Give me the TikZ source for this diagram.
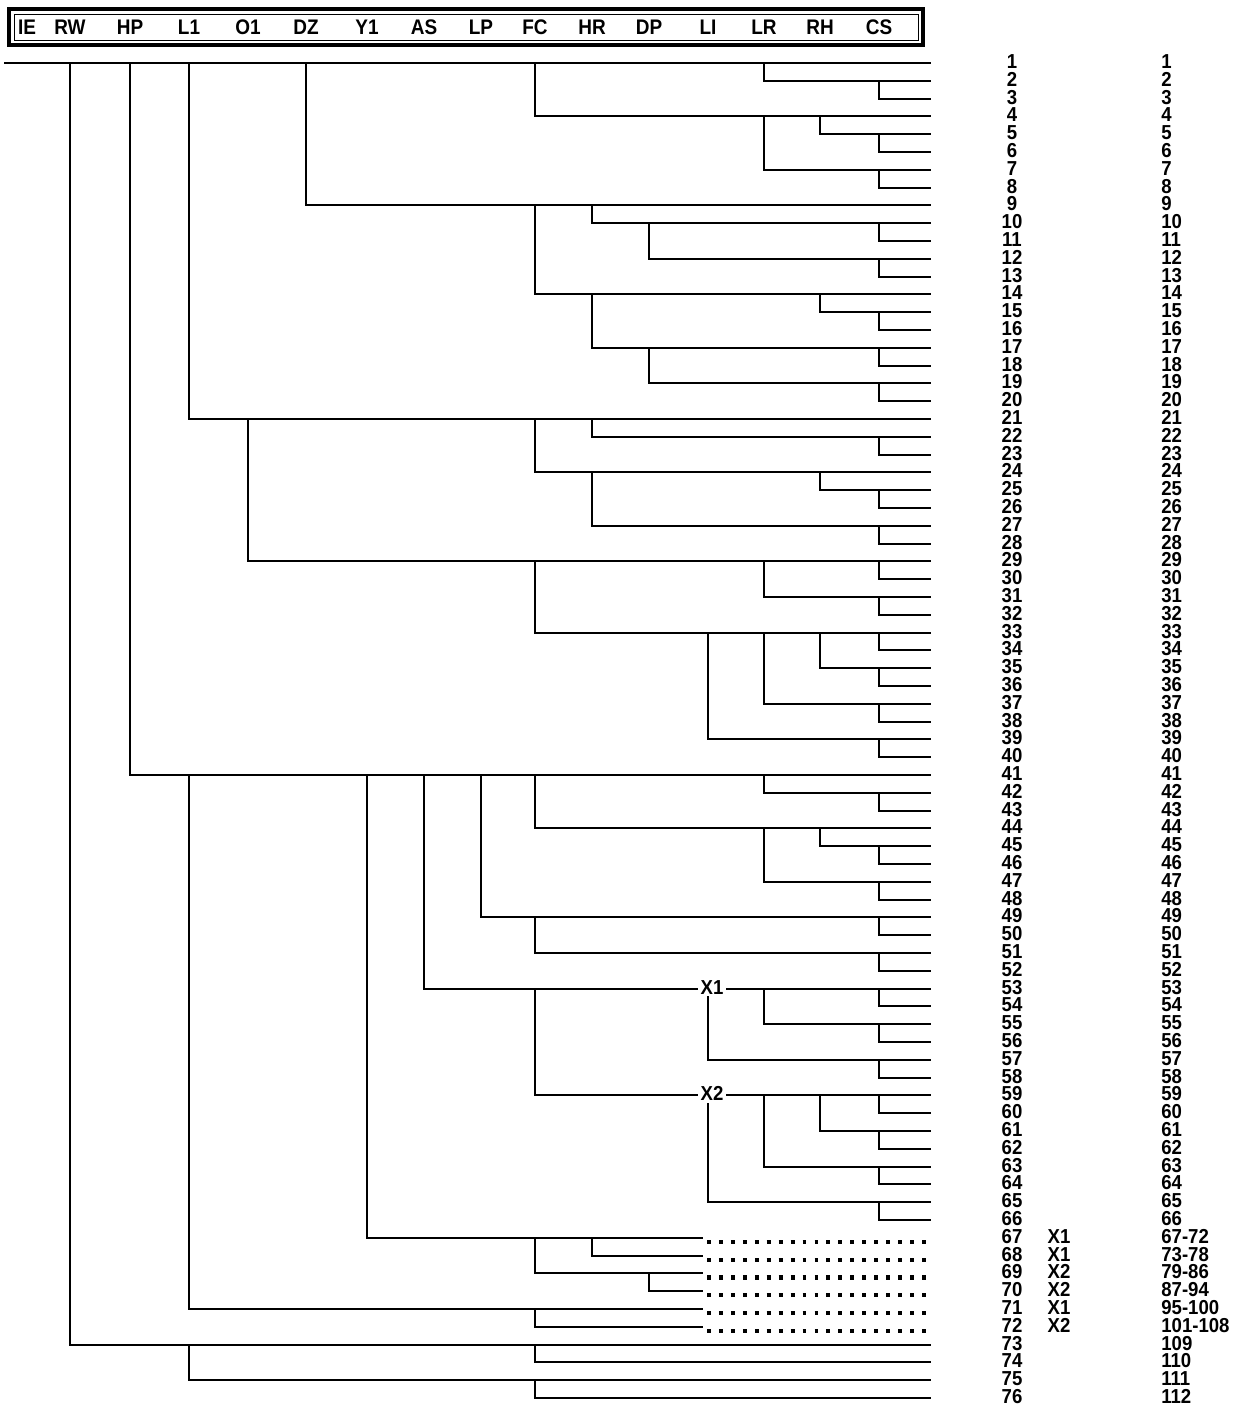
\documentclass[tikz,border=0pt]{standalone}
\usepackage{fontspec}
\setmainfont{Liberation Sans}
\usepackage{tikz}
\usetikzlibrary{calc}
\tikzset{
  treeline/.style={line width=1.2pt,line cap=rect,line join=miter},
  dotline/.style={line width=2.4pt,dash pattern=on 2.2pt off 4.6pt},
  headlab/.style={font=\fontsize{12}{13}\selectfont\bfseries,inner sep=0pt,xscale=0.9},
  numlab/.style={font=\fontsize{11.5}{12}\selectfont\bfseries,inner sep=0pt,
                 text height=8.2pt,text depth=0pt,yshift=1pt,xscale=0.92},
  xlab/.style={numlab,fill=white,inner xsep=1.5pt,inner ysep=1pt}
}

\begin{document}
\begin{tikzpicture}[x=0.02cm,y=-0.02cm]
  \def\ytop{63}                 % first row
  \def\dy{17.8}                 % row spacing
  \def\xend{930}                % end of leaf lines
  \def\xcut{702}                % end of solid part, rows 67-72
  \useasboundingbox (0,0) rectangle (1254,1407);

  % HEADER
  \draw[line width=2.4pt] (9,9) rectangle (923,45);
  \draw[line width=0.5pt] (14,14) rectangle (918,40);
  \foreach \n/\x in {IE/27,RW/70,HP/130,L1/189,O1/248,DZ/306,Y1/367,AS/424,
                     LP/481,FC/535,HR/592,DP/649,LI/708,LR/764,RH/820,CS/879}
    \node[headlab] (\n) at (\x,27) {\n};

  % ROWS
  \foreach \i in {1,...,76}
    \coordinate (r\i) at (\xend,{\ytop+(\i-1)*\dy});
  \coordinate (start) at (5,\ytop);
  \coordinate (cut) at (\xcut,0);
  \coordinate (dot) at (707,0);
  \coordinate (cA) at (1012,0);
  \coordinate (cB) at (1059,0);
  \coordinate (cC) at (1161,0);

  % TREE
  \draw[treeline] (start) -- (r1);
  \foreach \c/\a/\b in {RW/1/73,HP/1/41,L1/1/21,DZ/1/9,FC/1/4,LR/1/2,CS/2/3,
      LR/4/7,RH/4/5,CS/5/6,CS/7/8,
      FC/9/14,HR/9/10,DP/10/12,CS/10/11,CS/12/13,HR/14/17,RH/14/15,CS/15/16,
      DP/17/19,CS/17/18,CS/19/20,
      O1/21/29,FC/21/24,HR/21/22,CS/22/23,HR/24/27,RH/24/25,CS/25/26,CS/27/28,
      FC/29/33,LR/29/31,CS/29/30,CS/31/32,LI/33/39,LR/33/37,RH/33/35,CS/33/34,
      CS/35/36,CS/37/38,CS/39/40,
      AS/41/53,LP/41/49,FC/41/44,LR/41/42,CS/42/43,LR/44/47,RH/44/45,CS/45/46,
      CS/47/48,FC/49/51,CS/49/50,CS/51/52,
      FC/53/59,LI/53/57,LR/53/55,CS/53/54,CS/55/56,CS/57/58,
      LI/59/65,LR/59/63,RH/59/61,CS/59/60,CS/61/62,CS/63/64,CS/65/66,
      L1/73/75,FC/73/74,FC/75/76}
    \draw[treeline] (\c |- r\a) |- (r\b);
  \foreach \c/\a/\b in {Y1/41/67,HR/67/68,FC/67/69,DP/69/70,L1/41/71,FC/71/72}
    \draw[treeline] (\c |- r\a) |- (cut |- r\b);
  \foreach \i in {67,...,72}
    \draw[dotline] ($(dot |- r\i)+(0,4)$) -- ($(r\i)+(0,4)$);

  % X NODES
  \node[xlab] (X1) at ($(LI |- r53)+(4,0)$) {X1};
  \node[xlab] (X2) at ($(LI |- r59)+(4,0)$) {X2};

  % LABELS
  \foreach \i in {1,...,76}
    \node[numlab] (a\i) at (cA |- r\i) {\i};
  \foreach \i/\t in {67/X1,68/X1,69/X2,70/X2,71/X1,72/X2}
    \node[numlab] (b\i) at (cB |- r\i) {\t};
  \foreach \i in {1,...,66}
    \node[numlab,anchor=west] (c\i) at (cC |- r\i) {\i};
  \foreach \i/\t in {67/67-72,68/73-78,69/79-86,70/87-94,71/95-100,72/101-108,
                     73/109,74/110,75/111,76/112}
    \node[numlab,anchor=west] (c\i) at (cC |- r\i) {\t};
\end{tikzpicture}
\end{document}
